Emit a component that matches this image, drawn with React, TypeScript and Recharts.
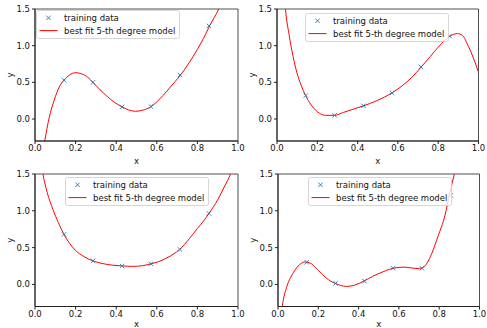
import { ComposedChart, Legend, Line, ReferenceArea, Scatter, XAxis, YAxis } from "recharts";

// shared x positions of the 6 training samples + axis ticks
const trainX = [0.143, 0.286, 0.429, 0.571, 0.714, 0.857];
const xTicks = [0, 0.2, 0.4, 0.6, 0.8, 1];
const yTicks = [0, 0.5, 1, 1.5];

// top-left
const trainA = [0.53, 0.5, 0.165, 0.17, 0.6, 1.27];
const curveAX = [0.035, 0.048, 0.07, 0.095, 0.12, 0.143, 0.17, 0.2, 0.23, 0.26, 0.285, 0.32, 0.355, 0.39, 0.43, 0.46, 0.495, 0.53, 0.572, 0.61, 0.65, 0.69, 0.717, 0.76, 0.8, 0.83, 0.86, 0.905, 0.92];
const curveAY = [-0.52, -0.3, 0.02, 0.26, 0.44, 0.53, 0.6, 0.632, 0.615, 0.57, 0.5, 0.4, 0.31, 0.23, 0.165, 0.125, 0.105, 0.12, 0.17, 0.26, 0.38, 0.51, 0.6, 0.77, 0.95, 1.1, 1.27, 1.5, 1.6];

// top-right
const trainB = [0.32, 0.05, 0.18, 0.355, 0.71, 1.13];
const curveBX = [0.035, 0.042, 0.06, 0.08, 0.1, 0.12, 0.14, 0.17, 0.2, 0.24, 0.285, 0.33, 0.38, 0.43, 0.5, 0.57, 0.62, 0.67, 0.716, 0.76, 0.8, 0.835, 0.865, 0.895, 0.92, 0.95, 0.975, 1.0];
const curveBY = [1.75, 1.5, 1.15, 0.85, 0.62, 0.46, 0.33, 0.19, 0.1, 0.05, 0.05, 0.09, 0.135, 0.18, 0.255, 0.355, 0.45, 0.57, 0.71, 0.85, 0.98, 1.08, 1.14, 1.165, 1.14, 0.99, 0.83, 0.64];

// bottom-left
const trainC = [0.68, 0.32, 0.25, 0.28, 0.475, 0.965];
const curveCX = [0.03, 0.039, 0.06, 0.088, 0.115, 0.142, 0.17, 0.2, 0.24, 0.285, 0.33, 0.38, 0.428, 0.48, 0.53, 0.571, 0.61, 0.65, 0.712, 0.76, 0.8, 0.83, 0.857, 0.9, 0.935, 0.963, 0.975];
const curveCY = [1.65, 1.5, 1.25, 1.02, 0.84, 0.683, 0.56, 0.46, 0.38, 0.32, 0.285, 0.262, 0.252, 0.245, 0.255, 0.28, 0.31, 0.36, 0.475, 0.62, 0.76, 0.86, 0.964, 1.15, 1.34, 1.5, 1.6];

// bottom-right
const trainD = [0.3, 0.015, 0.045, 0.22, 0.22, 1.21];
const curveDX = [0.012, 0.021, 0.045, 0.07, 0.1, 0.134, 0.16, 0.2, 0.24, 0.283, 0.34, 0.38, 0.426, 0.47, 0.52, 0.572, 0.63, 0.69, 0.716, 0.74, 0.763, 0.795, 0.828, 0.853, 0.876, 0.885];
const curveDY = [-0.5, -0.3, -0.02, 0.13, 0.25, 0.305, 0.29, 0.19, 0.085, 0.015, -0.027, -0.01, 0.045, 0.11, 0.17, 0.22, 0.235, 0.215, 0.225, 0.29, 0.42, 0.66, 0.93, 1.25, 1.51, 1.62];

const FONT = "'DejaVu Sans', sans-serif";
const tickStyle = { fontSize: 8.5, fill: "#111", fontFamily: FONT };
const BLUE = "#1f77b4";
const RED = "#ff0000";
const PAGE_H = 328;

function XMark(props: any) {
  const { cx, cy } = props;
  if (cx == null || cy == null) return null;
  const r = 2.2;
  return (
    <path
      d={`M${cx - r},${cy - r}L${cx + r},${cy + r}M${cx - r},${cy + r}L${cx + r},${cy - r}`}
      stroke={BLUE}
      strokeWidth={0.9}
      fill="none"
    />
  );
}

function LegendBox({ payload }: any) {
  const rank = (e: any) => (e.type === "cross" ? 0 : 1);
  const items = [...(payload || [])].sort((a, b) => rank(a) - rank(b));
  return (
    <svg width={145} height={30} style={{ display: "block" }}>
      <rect x={0.5} y={0.5} width={143} height={28} rx={2} fill="#fff" fillOpacity={0.8} stroke="#ccc" strokeWidth={0.8} />
      {items.map((it, i) => {
        const cy = 7.8 + i * 12.8;
        return (
          <g key={i}>
            {it.type === "cross" ? (
              <XMark cx={12.5} cy={cy} />
            ) : (
              <line x1={3.5} x2={21.5} y1={cy} y2={cy} stroke={RED} strokeWidth={1} />
            )}
            <text x={28} y={cy} dominantBaseline="central" style={tickStyle}>
              {it.value}
            </text>
          </g>
        );
      })}
    </svg>
  );
}

const panels = [
  { left: 35, top: 9, w: 203, h: 132, legLeft: 36, legTop: 9.5, train: trainA, cx: curveAX, cy: curveAY },
  { left: 277, top: 9, w: 201.5, h: 132, legLeft: 305, legTop: 13, train: trainB, cx: curveBX, cy: curveBY },
  { left: 35, top: 174, w: 203, h: 132.5, legLeft: 65, legTop: 177, train: trainC, cx: curveCX, cy: curveCY },
  { left: 278, top: 174, w: 201.5, h: 132.5, legLeft: 308, legTop: 177, train: trainD, cx: curveDX, cy: curveDY },
];

function Panel({ p }: { p: (typeof panels)[number] }) {
  const curve = p.cx.map((x, i) => ({ x, y: p.cy[i] }));
  const train = trainX.map((x, i) => ({ x, y: p.train[i] }));
  const W = p.w + 36 + 8;
  const H = p.h + 12 + 24;
  const chartTop = p.top - 12;
  return (
    <div style={{ position: "absolute", left: p.left - 36, top: chartTop }}>
      <ComposedChart width={W} height={H} data={curve} margin={{ top: 12, right: 8, bottom: 0, left: 0 }}>
        <XAxis
          dataKey="x"
          type="number"
          domain={[0, 1]}
          ticks={xTicks}
          allowDataOverflow
          tickFormatter={(v: number) => v.toFixed(1)}
          tick={tickStyle}
          tickSize={3}
          tickMargin={1}
          height={24}
          stroke="#222"
          label={(lp: any) => {
            const vb = lp.viewBox;
            // keep the "x" inside the page on the bottom row
            const y = Math.min(vb.y + 22.5, PAGE_H - chartTop - 1);
            return (
              <text x={vb.x + vb.width / 2} y={y} textAnchor="middle" style={tickStyle}>
                x
              </text>
            );
          }}
        />
        <YAxis
          dataKey="y"
          type="number"
          domain={[-0.3, 1.5]}
          ticks={yTicks}
          allowDataOverflow
          tickFormatter={(v: number) => v.toFixed(1)}
          tick={tickStyle}
          tickSize={3}
          tickMargin={2}
          width={36}
          stroke="#222"
          label={(lp: any) => {
            const vb = lp.viewBox;
            const x = vb.x + 11;
            const y = vb.y + vb.height / 2;
            return (
              <text x={x} y={y} transform={`rotate(-90 ${x} ${y})`} textAnchor="middle" dominantBaseline="central" style={tickStyle}>
                y
              </text>
            );
          }}
        />
        <ReferenceArea x1={0} x2={1} y1={-0.3} y2={1.5} fill="none" stroke="#222" strokeWidth={0.8} />
        <Scatter name="training data" data={train} shape={(s: any) => <XMark {...s} />} legendType="cross" isAnimationActive={false} />
        <Line
          name="best fit 5-th degree model"
          dataKey="y"
          type="monotone"
          stroke={RED}
          strokeWidth={1}
          dot={false}
          legendType="line"
          isAnimationActive={false}
        />
        <Legend
          content={<LegendBox />}
          verticalAlign="middle"
          width={145}
          wrapperStyle={{ left: p.legLeft - p.left + 36, top: p.legTop - p.top + 12, width: 145 }}
        />
      </ComposedChart>
    </div>
  );
}

export default function App() {
  return (
    <div style={{ position: "absolute", left: 0, top: 0, width: 487, height: PAGE_H, overflow: "hidden", background: "#fff" }}>
      {panels.map((p, i) => (
        <Panel key={i} p={p} />
      ))}
    </div>
  );
}
